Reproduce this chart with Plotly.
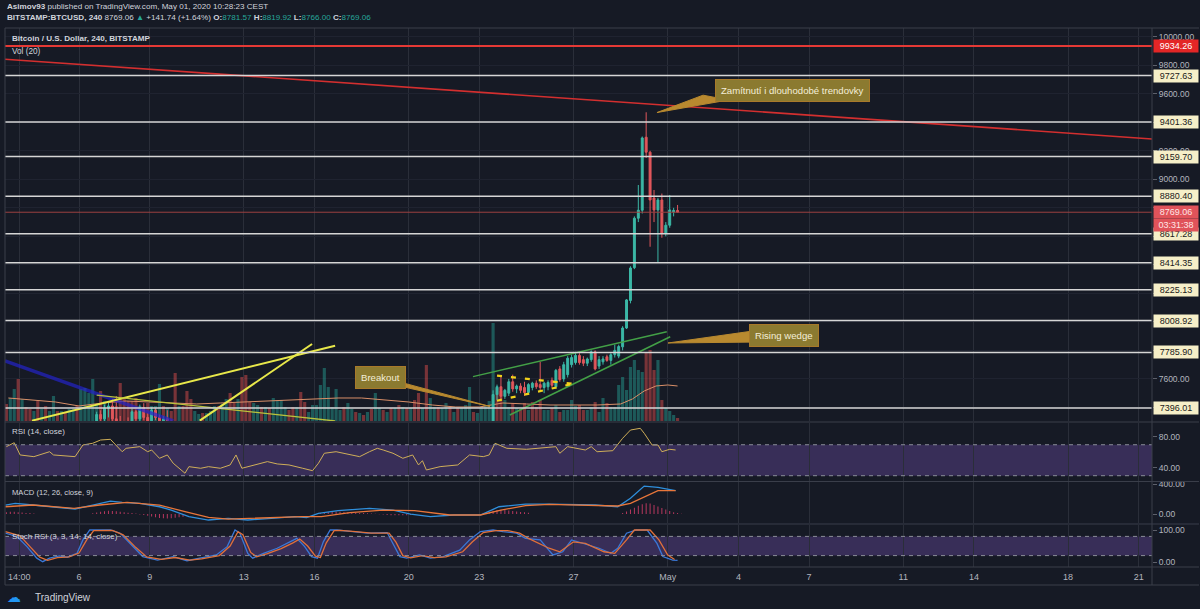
from __future__ import annotations

import pandas as pd
import plotly.graph_objects as go
from plotly.subplots import make_subplots

BG = "#161a25"
GRID = "#262a35"
BORDER = "#3a3e4a"
TEXT = "#d1d4dc"
AXIS_TEXT = "#b2b5be"
UP = "#3bb7a6"
DOWN = "#e0575b"
FONT = "Liberation Sans, Arial, sans-serif"

# ---- price candles, 4h bars (CEST). Two visible stretches.
seg1_start, seg2_start = "2020-04-06 18:00", "2020-04-23 02:00"
seg1_open = [7230, 7350, 7320, 7395, 7410, 7320, 7300, 7180, 7280, 7230, 7370, 7320, 7400, 7330, 7300, 7380, 7330, 7260, 7320, 7300]
seg1_high = [7370, 7380, 7420, 7440, 7460, 7480, 7340, 7300, 7330, 7390, 7385, 7420, 7430, 7360, 7400, 7395, 7350, 7340, 7380, 7310]
seg1_low = [7200, 7290, 7300, 7330, 7300, 7280, 7150, 7160, 7200, 7220, 7300, 7300, 7310, 7280, 7290, 7310, 7240, 7250, 7280, 7150]
seg1_close = [7350, 7320, 7395, 7410, 7320, 7300, 7180, 7280, 7230, 7370, 7320, 7400, 7330, 7300, 7380, 7330, 7260, 7320, 7300, 7180]

seg2_open = [7130, 7140, 7160, 7240, 7490, 7545, 7478, 7500, 7580, 7530, 7550, 7540,
             7505, 7540, 7570, 7560, 7540, 7545, 7590, 7545, 7670, 7600, 7630, 7700,
             7715, 7765, 7735, 7710, 7735, 7790, 7690, 7720, 7755, 7730, 7770, 7760,
             7825, 7957, 8150, 8380, 8727, 8783, 9295, 9190, 8869, 8785, 8855, 8622,
             8678, 8770, 8781.57]
seg2_high = [7160, 7180, 7260, 7520, 7560, 7620, 7530, 7600, 7630, 7560, 7570, 7580,
             7570, 7580, 7590, 7720, 7580, 7590, 7610, 7670, 7690, 7720, 7760, 7770,
             7790, 7780, 7760, 7750, 7800, 7800, 7760, 7760, 7770, 7780, 7840, 7840,
             7970, 8160, 8390, 8740, 8960, 9300, 9470, 9200, 8925, 8870, 8900, 8700,
             8890, 8800, 8819.92]
seg2_low = [7100, 7120, 7140, 7230, 7450, 7460, 7460, 7480, 7510, 7500, 7500, 7480,
            7490, 7520, 7530, 7520, 7500, 7520, 7540, 7530, 7580, 7580, 7610, 7680,
            7700, 7700, 7690, 7690, 7720, 7660, 7670, 7700, 7720, 7700, 7750, 7745,
            7800, 7950, 8130, 8370, 8700, 8760, 9150, 8527, 8700, 8413, 8590, 8600,
            8660, 8740, 8766]
seg2_close = [7140, 7160, 7240, 7490, 7545, 7478, 7520, 7580, 7530, 7550, 7520, 7505,
              7560, 7570, 7545, 7540, 7570, 7575, 7555, 7660, 7595, 7700, 7745, 7750,
              7765, 7715, 7710, 7740, 7790, 7670, 7735, 7740, 7730, 7770, 7800, 7827,
              7957, 8154, 8378, 8727, 8783, 9290, 9190, 8855, 8785, 8855, 8622, 8678,
              8785, 8781.57, 8769.06]

# ---- volume (hundreds of BTC), one bar per 4h from Apr 2 22:00
vol_start = "2020-04-02 22:00"
volume = [17, 23, 32, 42, 22, 14, 12, 10, 20, 12, 15, 10, 25, 10, 10, 8, 12, 12, 15, 32,
          33, 28, 42, 17, 30, 20, 15, 15, 15, 38, 23, 20, 20, 23, 15, 12, 18, 15, 15, 37,
          15, 13, 10, 48, 15, 15, 30, 22, 10, 7, 8, 8, 10, 15, 15, 17, 22, 28, 18, 22,
          44, 46, 19, 18, 16, 14, 14, 13, 23, 21, 21, 14, 11, 14, 14, 29, 19, 9, 16, 16,
          36, 53, 34, 14, 32, 11, 14, 18, 12, 9, 8, 6, 9, 12, 28, 13, 11, 9, 13, 13,
          16, 14, 13, 13, 21, 28, 13, 56, 23, 14, 14, 13, 18, 14, 9, 13, 13, 16, 34, 9,
          8, 14, 16, 20, 98, 33, 30, 21, 14, 18, 13, 12, 18, 11, 19, 14, 21, 11, 11, 13,
          16, 9, 11, 11, 21, 15, 16, 11, 11, 14, 19, 9, 23, 18, 14, 14, 36, 44, 31, 54,
          61, 51, 49, 68, 71, 51, 61, 21, 13, 10, 6, 3]
vol_side = ("rggrgrrgrg" "rggrgrggrg" "ggggrgrrrr" "rrrrgrrggg" "rgrrgrrrgg"
            "rgggrggrrg" "rrrggrgrgg" "ggrrgrrggg" "ggggggrggr" "grgrggrgrg"
            "rgrgrrgrgg" "rggrgrgggr" "gggggrrggr" "grrgrrrggr" "grggggrrgg"
            "rggrgggggg" "gggrrrgrgg" "gr")

vol_ma_time = ["2020-04-03", "2020-04-04", "2020-04-05", "2020-04-06", "2020-04-07", "2020-04-08",
               "2020-04-09", "2020-04-10", "2020-04-11", "2020-04-12", "2020-04-13", "2020-04-14",
               "2020-04-15", "2020-04-16", "2020-04-17", "2020-04-18", "2020-04-19", "2020-04-20",
               "2020-04-21", "2020-04-22", "2020-04-23", "2020-04-24", "2020-04-25", "2020-04-26",
               "2020-04-27", "2020-04-28", "2020-04-29", "2020-04-29 12:00", "2020-04-30",
               "2020-04-30 12:00", "2020-05-01", "2020-05-01 10:00"]
vol_ma = [23, 21, 19, 15, 18, 20, 19, 18, 17, 18, 19, 20, 21, 22, 23, 23, 21, 19,
          16, 14, 14, 18, 17, 16, 16, 16, 17, 22, 30, 35, 36, 35]

# ---- RSI (14)
rsi_time = ["2020-04-02 22:00", "2020-04-03 06:00", "2020-04-03 12:00", "2020-04-04 02:00",
            "2020-04-04 18:00", "2020-04-04 22:00", "2020-04-05 20:00", "2020-04-06 04:00",
            "2020-04-06 14:00", "2020-04-06 22:00", "2020-04-07 08:00", "2020-04-07 12:00",
            "2020-04-07 20:00", "2020-04-08 00:00", "2020-04-08 14:00", "2020-04-08 22:00",
            "2020-04-09 02:00", "2020-04-09 10:00", "2020-04-09 18:00", "2020-04-10 00:00",
            "2020-04-10 12:00", "2020-04-10 16:00", "2020-04-11 04:00", "2020-04-11 12:00",
            "2020-04-12 00:00", "2020-04-12 10:00", "2020-04-12 16:00", "2020-04-12 22:00",
            "2020-04-13 12:00", "2020-04-14 00:00", "2020-04-14 10:00", "2020-04-14 22:00",
            "2020-04-15 12:00", "2020-04-15 22:00", "2020-04-16 04:00", "2020-04-16 10:00",
            "2020-04-16 22:00", "2020-04-17 12:00", "2020-04-17 22:00", "2020-04-18 08:00",
            "2020-04-18 16:00", "2020-04-18 22:00", "2020-04-19 08:00", "2020-04-19 18:00",
            "2020-04-20 04:00", "2020-04-20 10:00", "2020-04-20 14:00", "2020-04-20 18:00",
            "2020-04-21 08:00", "2020-04-22 02:00", "2020-04-22 14:00", "2020-04-23 04:00",
            "2020-04-23 10:00", "2020-04-23 16:00", "2020-04-23 20:00", "2020-04-24 04:00",
            "2020-04-25 00:00", "2020-04-26 06:00", "2020-04-26 10:00", "2020-04-26 18:00",
            "2020-04-27 12:00", "2020-04-27 18:00", "2020-04-28 00:00", "2020-04-28 16:00",
            "2020-04-29 02:00", "2020-04-29 10:00", "2020-04-29 20:00", "2020-04-30 00:00",
            "2020-04-30 08:00", "2020-04-30 14:00", "2020-04-30 18:00", "2020-05-01 02:00",
            "2020-05-01 08:00"]
rsi = [67.5, 72.6, 56.8, 54.6, 61, 56.8, 54.6, 69.7, 71.9, 76.1, 77, 71.9, 61, 65.4, 67.5,
       61, 63.2, 52.5, 56.8, 46.1, 33.2, 41.7, 39.6, 41.7, 39.6, 43.9, 56.8, 39.6, 43.9,
       48.2, 45.2, 43.9, 39.6, 36.5, 46.1, 59, 61, 56.8, 54.6, 61, 65.4, 63.2, 59, 52.5,
       56.8, 43.9, 49.4, 37.4, 41.7, 43.9, 56.8, 54.6, 56.8, 71.9, 69.7, 65.4, 64.1, 67.5,
       59, 67.5, 63.2, 67.5, 61, 62.3, 78.3, 89, 91.2, 84.8, 69.7, 69.7, 61, 64.1, 63.2]

# ---- MACD (12, 26, 9)
macd_time = ["2020-04-02 21:00", "2020-04-03 07:00", "2020-04-04 01:00", "2020-04-04 21:00",
             "2020-04-05 20:00", "2020-04-06 14:00", "2020-04-07 08:00", "2020-04-07 20:00",
             "2020-04-08 14:00", "2020-04-09 10:00", "2020-04-09 22:00", "2020-04-10 16:00",
             "2020-04-11 12:00", "2020-04-12 08:00", "2020-04-13 04:00", "2020-04-14 04:00",
             "2020-04-15 04:00", "2020-04-15 16:00", "2020-04-16 04:00", "2020-04-17 00:00",
             "2020-04-18 08:00", "2020-04-19 08:00", "2020-04-20 02:00", "2020-04-20 22:00",
             "2020-04-21 22:00", "2020-04-23 01:00", "2020-04-23 20:00", "2020-04-24 23:00",
             "2020-04-25 23:00", "2020-04-27 22:00", "2020-04-28 21:00", "2020-04-29 10:00",
             "2020-04-30 00:00", "2020-04-30 14:00", "2020-05-01 08:00"]
macd = [120, 143, 120, 97, 67, 120, 173, 156, 143, 97, 53, -36, -80, -57, -80, -57, -36, -49,
        9, 44, 76, 53, 0, -36, -13, -13, 97, 133, 133, 120, 97, 209, 373, 356, 311]
signal_time = ["2020-04-02 21:00", "2020-04-04 01:00", "2020-04-05 19:00", "2020-04-06 21:00",
               "2020-04-08 01:00", "2020-04-09 10:00", "2020-04-10 12:00", "2020-04-11 12:00",
               "2020-04-12 08:00", "2020-04-13 23:00", "2020-04-15 11:00", "2020-04-16 07:00",
               "2020-04-17 12:00", "2020-04-18 22:00", "2020-04-20 06:00", "2020-04-21 18:00",
               "2020-04-23 01:00", "2020-04-23 22:00", "2020-04-24 23:00", "2020-04-25 23:00",
               "2020-04-27 22:00", "2020-04-28 21:00", "2020-04-29 10:00", "2020-04-30 00:00",
               "2020-04-30 14:00", "2020-05-01 08:00"]
signal = [97, 120, 76, 120, 156, 120, 31, -44, -67, -49, -36, -36, 18, 53, 44, -13, -13, 53,
          111, 129, 120, 107, 143, 231, 311, 311]
hist_blocks = [
    ("2020-04-02 22:00", [25, 30, 30, 25, 20, 15, 12, 8]),
    ("2020-04-06 14:00", [10, 20, 30, 38, 42, 40, 36, 30, 24, 18, 12, 6, -6, -14, -24, -34,
                          -44, -52, -58, -60, -56, -50, -44, -38]),
    ("2020-04-16 06:00", [12, 20, 26, 30, 32, 30, 28, 25, 22, 18, 15, 12, 9, 6, 3, -3, -8,
                          -12, -15, -17, -18, -17, -15, -12]),
    ("2020-04-23 06:00", [15, 30, 45, 55, 56, 52, 46, 40, 34, 28, 22, 16]),
    ("2020-04-29 02:00", [15, 35, 60, 85, 110, 130, 145, 140, 120, 100, 80, 60, 40, 25, 12, 5]),
]

# ---- Stoch RSI (3, 3, 14, 14)
stoch_k_time = ["2020-04-02 21:00", "2020-04-03 09:00", "2020-04-03 19:00", "2020-04-04 05:00",
                "2020-04-04 11:00", "2020-04-04 18:00", "2020-04-05 04:00", "2020-04-05 12:00",
                "2020-04-05 22:00", "2020-04-06 04:00", "2020-04-06 11:00", "2020-04-07 08:00",
                "2020-04-07 18:00", "2020-04-08 07:00", "2020-04-08 17:00", "2020-04-09 08:00",
                "2020-04-10 00:00", "2020-04-10 14:00", "2020-04-11 03:00", "2020-04-11 20:00",
                "2020-04-12 07:00", "2020-04-12 15:00", "2020-04-12 20:00", "2020-04-13 04:00",
                "2020-04-13 09:00", "2020-04-13 20:00", "2020-04-14 10:00", "2020-04-14 23:00",
                "2020-04-15 06:00", "2020-04-15 14:00", "2020-04-15 21:00", "2020-04-16 03:00",
                "2020-04-16 09:00", "2020-04-16 16:00", "2020-04-16 23:00", "2020-04-17 15:00",
                "2020-04-18 06:00", "2020-04-19 02:00", "2020-04-19 08:00", "2020-04-19 15:00",
                "2020-04-19 22:00", "2020-04-20 11:00", "2020-04-20 22:00", "2020-04-21 11:00",
                "2020-04-22 04:00", "2020-04-22 14:00", "2020-04-23 01:00", "2020-04-23 14:00",
                "2020-04-24 00:00", "2020-04-24 14:00", "2020-04-24 23:00", "2020-04-25 14:00",
                "2020-04-26 03:00", "2020-04-26 13:00", "2020-04-26 22:00", "2020-04-27 10:00",
                "2020-04-28 02:00", "2020-04-28 14:00", "2020-04-28 21:00", "2020-04-29 06:00",
                "2020-04-29 16:00", "2020-04-30 03:00", "2020-04-30 13:00", "2020-04-30 19:00",
                "2020-05-01 05:00", "2020-05-01 10:00"]
stoch_k = [90, 79, 48, 12, 1, 12, 19, 15, 27, 69, 100, 100, 90, 48, 17, 6, 17, 4, 12, 22, 48,
           100, 90, 27, 12, 27, 43, 63, 74, 48, 17, 12, 63, 100, 100, 95, 90, 92, 58, 17, 12,
           22, 12, 17, 37, 69, 95, 100, 95, 90, 74, 69, 22, 32, 69, 58, 43, 27, 43, 90, 100,
           100, 58, 17, 6, 5]
stoch_d_time = ["2020-04-02 21:00", "2020-04-03 12:00", "2020-04-03 23:00", "2020-04-04 08:00",
                "2020-04-04 16:00", "2020-04-05 02:00", "2020-04-05 14:00", "2020-04-06 00:00",
                "2020-04-06 08:00", "2020-04-06 15:00", "2020-04-07 10:00", "2020-04-07 21:00",
                "2020-04-08 10:00", "2020-04-08 21:00", "2020-04-09 12:00", "2020-04-10 02:00",
                "2020-04-10 17:00", "2020-04-11 05:00", "2020-04-11 23:00", "2020-04-12 10:00",
                "2020-04-12 18:00", "2020-04-12 23:00", "2020-04-13 07:00", "2020-04-13 13:00",
                "2020-04-14 00:00", "2020-04-14 14:00", "2020-04-15 02:00", "2020-04-15 09:00",
                "2020-04-15 17:00", "2020-04-16 01:00", "2020-04-16 06:00", "2020-04-16 12:00",
                "2020-04-16 20:00", "2020-04-17 02:00", "2020-04-17 18:00", "2020-04-18 10:00",
                "2020-04-19 04:00", "2020-04-19 11:00", "2020-04-19 18:00", "2020-04-20 02:00",
                "2020-04-20 14:00", "2020-04-21 02:00", "2020-04-21 14:00", "2020-04-22 07:00",
                "2020-04-22 17:00", "2020-04-23 04:00", "2020-04-23 17:00", "2020-04-24 05:00",
                "2020-04-24 17:00", "2020-04-25 02:00", "2020-04-25 23:00", "2020-04-26 10:00",
                "2020-04-27 00:00", "2020-04-27 12:00", "2020-04-28 07:00", "2020-04-28 18:00",
                "2020-04-29 06:00", "2020-04-29 14:00", "2020-04-30 06:00", "2020-04-30 15:00",
                "2020-05-01 00:00", "2020-05-01 07:00"]
stoch_d = [95, 82, 45, 15, 5, 14, 16, 28, 70, 98, 99, 85, 45, 16, 8, 14, 6, 10, 20, 50, 95, 85,
           30, 16, 26, 42, 60, 72, 50, 18, 14, 60, 98, 99, 95, 90, 90, 62, 20, 13, 20, 14, 16,
           32, 63, 92, 98, 98, 90, 74, 43, 32, 63, 58, 32, 27, 69, 100, 100, 69, 22, 8]

# ---- drawings on the price chart (time, price)
levels = [9727.63, 9401.36, 9159.70, 8880.40, 8617.28, 8414.35, 8225.13, 8008.92, 7785.90, 7396.01]
red_level = 9934.26
last_price, countdown = 8769.06, "03:31:38"
trend_red = (["2020-04-02 20:35", "2020-05-21 13:30"], [9842, 9283])
blue_line = (["2020-04-02 20:35", "2020-04-10 00:00"], [7727, 7305])
yellow_a = (["2020-04-04 00:00", "2020-04-16 21:00"], [7307, 7833])
yellow_b = (["2020-04-11 03:00", "2020-04-15 21:30"], [7307, 7845])
olive_line = (["2020-04-06 18:00", "2020-04-16 21:00"], [7487, 7305])
wedge_top = (["2020-04-22 17:30", "2020-04-30 23:00"], [7616, 7931])
wedge_bottom = (["2020-04-24 07:00", "2020-05-01 02:30"], [7347, 7896])
dash_top = (["2020-04-23 18:00", "2020-04-27 01:30"], [7623, 7565])
dash_bottom = (["2020-04-23 18:00", "2020-04-27 01:30"], [7447, 7569])

callouts = [
    ("Zamítnutí i dlouhodobé trendovky", "2020-05-06 06:40", 9626,
     ["2020-04-30 13:00", "2020-05-02 12:00", "2020-05-03 13:30"], [9468, 9590, 9556]),
    ("Rising wedge", "2020-05-05 22:30", 7905,
     ["2020-05-01 00:15", "2020-05-04 22:00", "2020-05-04 22:00"], [7852, 7943, 7859]),
    ("Breakout", "2020-04-18 19:45", 7607,
     ["2020-04-23 10:50", "2020-04-19 07:00", "2020-04-19 15:00"], [7407, 7593, 7550]),
]

# price-scale labels that the level boxes do not hide
price_ticks = [7400, 7600, 7800, 8000, 8200, 8400, 8600, 8800, 9000, 9200, 9400, 9600, 9800, 10000]
price_labels = ["", "7600.00", "", "", "", "", "", "", "9000.00", "9200.00", "", "9600.00",
                "9800.00", "10000.00"]

xtick_vals = ["2020-04-03 11:00", "2020-04-06", "2020-04-09", "2020-04-13", "2020-04-16",
              "2020-04-20", "2020-04-23", "2020-04-27", "2020-05-01", "2020-05-04",
              "2020-05-07", "2020-05-11", "2020-05-14", "2020-05-18", "2020-05-21"]
xtick_text = ["14:00", "6", "9", "13", "16", "20", "23", "27", "May", "4", "7", "11", "14", "18", "21"]
x_range = ["2020-04-02 20:35", "2020-05-21 13:30"]


def line(fig, pts, color, width=1.5, dash=None, opacity=1.0):
    fig.add_trace(go.Scatter(x=pts[0], y=pts[1], mode="lines", opacity=opacity,
                             line=dict(color=color, width=width, dash=dash)),
                  row=1, col=1, secondary_y=True)


def hline(yref, y, color, width=1.0, dash=None):
    return dict(type="line", xref="paper", x0=0, x1=1, yref=yref, y0=y, y1=y,
                line=dict(color=color, width=width, dash=dash))


def paper_line(x0, y0, x1, y1):
    return dict(type="line", xref="paper", yref="paper", x0=x0, y0=y0, x1=x1, y1=y1,
                line=dict(color=BORDER, width=1))


def label(x, y, text, size=8.2, color=TEXT, **kw):
    return dict(xref="paper", yref="paper", x=x, y=y, text=text, showarrow=False,
                xanchor="left", yanchor="middle", font=dict(size=size, color=color, family=FONT), **kw)


def price_box(y, text, bg, fg, yshift=0):
    return dict(xref="paper", x=1.0, xanchor="left", xshift=1, yref="y2", y=y, yshift=yshift,
                text=text, showarrow=False, bgcolor=bg, width=44, height=12, borderpad=0,
                font=dict(size=9, color=fg, family=FONT))


fig = make_subplots(rows=4, cols=1, shared_xaxes=True, vertical_spacing=0.0,
                    specs=[[{"secondary_y": True}], [{}], [{}], [{}]])

# volume under the candles
vol_x = pd.date_range(vol_start, periods=len(volume), freq="4h")
vol_colors = ["rgba(38,166,154,0.45)" if s == "g" else "rgba(239,83,80,0.45)" for s in vol_side]
fig.add_trace(go.Bar(x=vol_x, y=volume, marker=dict(color=vol_colors, line=dict(width=0))),
              row=1, col=1, secondary_y=False)
fig.add_trace(go.Scatter(x=vol_ma_time, y=vol_ma, mode="lines", line=dict(color="#d98f68", width=1)),
              row=1, col=1, secondary_y=False)

candle_x = list(pd.date_range(seg1_start, periods=len(seg1_open), freq="4h")) + \
    list(pd.date_range(seg2_start, periods=len(seg2_open), freq="4h"))
fig.add_trace(go.Candlestick(
    x=candle_x, open=seg1_open + seg2_open, high=seg1_high + seg2_high,
    low=seg1_low + seg2_low, close=seg1_close + seg2_close,
    increasing=dict(line=dict(color=UP, width=1), fillcolor=UP),
    decreasing=dict(line=dict(color=DOWN, width=1), fillcolor=DOWN)),
    row=1, col=1, secondary_y=True)

line(fig, trend_red, "#d32f2f", 1.6)
line(fig, blue_line, "#2323c8", 3.5, opacity=0.7)
line(fig, yellow_a, "#e8e84a", 2)
line(fig, yellow_b, "#e8e84a", 2)
line(fig, olive_line, "#b9c23c", 1.3)
line(fig, wedge_top, "#43a047", 1.5)
line(fig, wedge_bottom, "#43a047", 1.5)
line(fig, dash_top, "#f2d21b", 2.2, dash="5px,9px")
line(fig, dash_bottom, "#f2d21b", 2.2, dash="5px,9px")

annotations = []
for text, bx, by, px, py in callouts:
    fig.add_trace(go.Scatter(x=px + px[:1], y=py + py[:1], mode="lines", fill="toself",
                             fillcolor="#b8892f", line=dict(color="#b8892f", width=1)),
                  row=1, col=1, secondary_y=True)
    annotations.append(dict(xref="x", yref="y2", x=bx, y=by, text=text, showarrow=False,
                            bgcolor="#8b7a30", bordercolor="#a8792a", borderwidth=1, borderpad=5,
                            font=dict(size=9.6, color="#f3eed8", family=FONT)))

# RSI
fig.add_trace(go.Scatter(x=rsi_time, y=rsi, mode="lines", line=dict(color="#cfae58", width=1)), row=2, col=1)

# MACD
for start, vals in hist_blocks:
    fig.add_trace(go.Bar(x=pd.date_range(start, periods=len(vals), freq="4h"), y=vals,
                         width=3600000, marker=dict(color="rgba(226,64,110,0.8)", line=dict(width=0))),
                  row=3, col=1)
fig.add_trace(go.Scatter(x=macd_time, y=macd, mode="lines", line=dict(color="#2f8fdc", width=1.3)), row=3, col=1)
fig.add_trace(go.Scatter(x=signal_time, y=signal, mode="lines", line=dict(color="#e8763a", width=1.3)), row=3, col=1)

# Stoch RSI
fig.add_trace(go.Scatter(x=stoch_k_time, y=stoch_k, mode="lines", line=dict(color="#3a78d8", width=1.3)), row=4, col=1)
fig.add_trace(go.Scatter(x=stoch_d_time, y=stoch_d, mode="lines", line=dict(color="#e0703a", width=1.3)), row=4, col=1)

tickfont = dict(size=8.5, color=AXIS_TEXT, family=FONT)
yax = dict(side="right", showgrid=False, zeroline=False, ticks="outside", ticklen=4,
           tickcolor="#5d606b", tickfont=tickfont, automargin=False, fixedrange=True)

shapes = [dict(type="rect", xref="paper", x0=0, x1=1, yref="y3", y0=30, y1=70, layer="below",
               fillcolor="rgba(126,87,194,0.33)", line=dict(width=0)),
          dict(type="rect", xref="paper", x0=0, x1=1, yref="y5", y0=20, y1=80, layer="below",
               fillcolor="rgba(126,87,194,0.33)", line=dict(width=0)),
          hline("y3", 70, "#8a8d98", 1, "4px,4px"), hline("y3", 30, "#8a8d98", 1, "4px,4px"),
          hline("y5", 80, "#8a8d98", 1, "4px,4px"), hline("y5", 20, "#8a8d98", 1, "4px,4px"),
          hline("y2", last_price, "#9b4040", 1)]
shapes += [hline("y2", v, "#d6d6d6", 1.5) for v in levels]
shapes.append(hline("y2", red_level, "#e53935", 2))
shapes += [paper_line(0, 1, 1.041, 1), paper_line(0, 0.269, 1.041, 0.269),
           paper_line(0, 0.1586, 1.041, 0.1586), paper_line(0, 0.0798, 1.041, 0.0798),
           paper_line(0, 0, 1.041, 0), paper_line(0, -0.0334, 1.041, -0.0334),
           paper_line(1, 1, 1, -0.0334), paper_line(0, 1, 0, -0.0334)]

annotations += [price_box(v, f"{v:.2f}", "#f6efc8", "#1a1a1a") for v in levels]
annotations += [price_box(red_level, f"{red_level:.2f}", "#e32626", "#ffffff"),
                price_box(last_price, f"{last_price:.2f}", "#e0535a", "#ffe6e6"),
                price_box(last_price, countdown, "#e0535a", "#ffe6e6", yshift=-13)]
annotations += [
    label(0, 1.039, "<b>Asimov93</b> published on TradingView.com, May 01, 2020 10:28:23 CEST", 8.1),
    label(0, 1.0186, "<b>BITSTAMP:BTCUSD, 240</b> 8769.06 <span style='color:#26a69a'>▲</span> "
          "+141.74 (+1.64%) <b>O:</b><span style='color:#26a69a'>8781.57</span> "
          "<b>H:</b><span style='color:#26a69a'>8819.92</span> "
          "<b>L:</b><span style='color:#26a69a'>8766.00</span> "
          "<b>C:</b><span style='color:#26a69a'>8769.06</span>", 8.1),
    label(0.0044, 0.9796, "<b>Bitcoin / U.S. Dollar, 240, BITSTAMP</b>", 8.1),
    label(0.0044, 0.9573, "Vol (20)", 8.2),
    label(0.0044, 0.2505, "RSI (14, close)", 8),
    label(0.0044, 0.1373, "MACD (12, 26, close, 9)", 7.6),
    label(0.0044, 0.0575, "Stoch RSI (3, 3, 14, 14, close)", 7.9),
    label(0.0, -0.0557, "<span style='color:#2196f3'>☁</span>", 14),
    label(0.0245, -0.0557, "TradingView", 10),
]

fig.update_layout(
    width=1200, height=609, paper_bgcolor=BG, plot_bgcolor=BG,
    margin=dict(l=5, r=48, t=28, b=42), showlegend=False, hovermode=False,
    font=dict(family=FONT, color=TEXT), bargap=0.2,
    yaxis=dict(domain=[0.2709, 1], range=[0, 393], visible=False, fixedrange=True),
    yaxis2=dict(yax, range=[7305, 10061], tickvals=price_ticks, ticktext=price_labels,
                showgrid=True, gridcolor="#1f2330"),
    yaxis3=dict(yax, domain=[0.1596, 0.2672], range=[23.2, 98.1], tickvals=[40, 80],
                ticktext=["40.00", "80.00"]),
    yaxis4=dict(yax, domain=[0.0816, 0.1577], range=[-120, 427], tickvals=[0, 400],
                ticktext=["0.00", "400.00"]),
    yaxis5=dict(yax, domain=[0, 0.0779], range=[-15.6, 115.6], tickvals=[0, 100],
                ticktext=["0.00", "100.00"]),
    shapes=shapes, annotations=annotations,
)
fig.update_xaxes(domain=[0, 1], range=x_range, tickvals=xtick_vals, ticktext=xtick_text, showgrid=True,
                 gridcolor="#2a2e39", zeroline=False, showline=False, rangeslider_visible=False,
                 tickfont=dict(size=9, color=AXIS_TEXT, family=FONT), ticklabelstandoff=3,
                 automargin=False, fixedrange=True)

fig.write_html("out.html", config={"displayModeBar": False},
               post_script="document.body.style.margin='0px';")
